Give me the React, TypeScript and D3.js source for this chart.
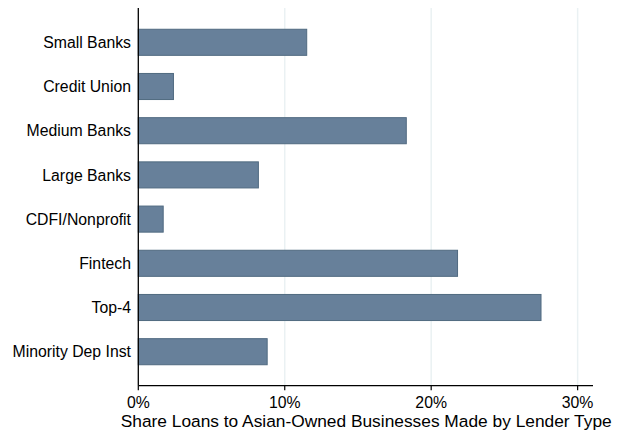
import React from "react";
import * as d3 from "d3";

const categories = [
  "Small Banks",
  "Credit Union",
  "Medium Banks",
  "Large Banks",
  "CDFI/Nonprofit",
  "Fintech",
  "Top-4",
  "Minority Dep Inst",
];
const values = [11.5, 2.4, 18.3, 8.2, 1.7, 21.8, 27.5, 8.8];
const tickValues = [0, 10, 20, 30];
const tickLabels = ["0%", "10%", "20%", "30%"];
const xTitle = "Share Loans to Asian-Owned Businesses Made by Lender Type";

export default function App() {
  const W = 626;
  const H = 433;
  const left = 138.3;
  const right = 593;
  const top = 8;
  const bottom = 385.7;

  const x = d3.scaleLinear().domain([0, 31.05]).range([left, right]);
  const y = d3
    .scaleBand<string>()
    .domain(categories)
    .range([20.2, 373.8])
    .paddingInner(0.41)
    .paddingOuter(0.205);

  const font = "Liberation Sans, Arial, Helvetica, sans-serif";

  return (
    <svg
      width={W}
      height={H}
      style={{ position: "absolute", left: 0, top: 0, background: "#fff" }}
      fontFamily={font}
    >
      <defs>
        <clipPath id="titleclip">
          <rect x={0} y={0} width={612} height={H} />
        </clipPath>
      </defs>
      {tickValues.slice(1).map((t) => (
        <line
          key={"g" + t}
          x1={x(t)}
          x2={x(t)}
          y1={top}
          y2={bottom}
          stroke="#eaf1f3"
          strokeWidth={1.5}
        />
      ))}
      {categories.map((c, i) => (
        <g key={c}>
          <rect
            x={x(0)}
            y={y(c)!}
            width={x(values[i]) - x(0)}
            height={y.bandwidth()}
            fill="#67809a"
            stroke="#506a80"
            strokeWidth={1}
          />
          <text
            x={131}
            y={y(c)! + y.bandwidth() / 2}
            dy="0.36em"
            textAnchor="end"
            fontSize={15.8}
            fill="#000"
          >
            {c}
          </text>
        </g>
      ))}
      <line x1={left} x2={left} y1={top} y2={bottom} stroke="#000" strokeWidth={1.3} />
      <line x1={left} x2={right} y1={bottom} y2={bottom} stroke="#000" strokeWidth={1.3} />
      {tickValues.map((t, i) => (
        <g key={"t" + t}>
          <line x1={x(t)} x2={x(t)} y1={bottom} y2={bottom + 4.5} stroke="#000" strokeWidth={1.2} />
          <text x={x(t)} y={408.3} textAnchor="middle" fontSize={15.8} fill="#000">
            {tickLabels[i]}
          </text>
        </g>
      ))}
      <g clipPath="url(#titleclip)">
        <text
          x={120.7}
          y={426.7}
          textAnchor="start"
          fontSize={16.8}
          textLength={491}
          lengthAdjust="spacingAndGlyphs"
          fill="#000"
        >
          {xTitle}
        </text>
      </g>
    </svg>
  );
}
